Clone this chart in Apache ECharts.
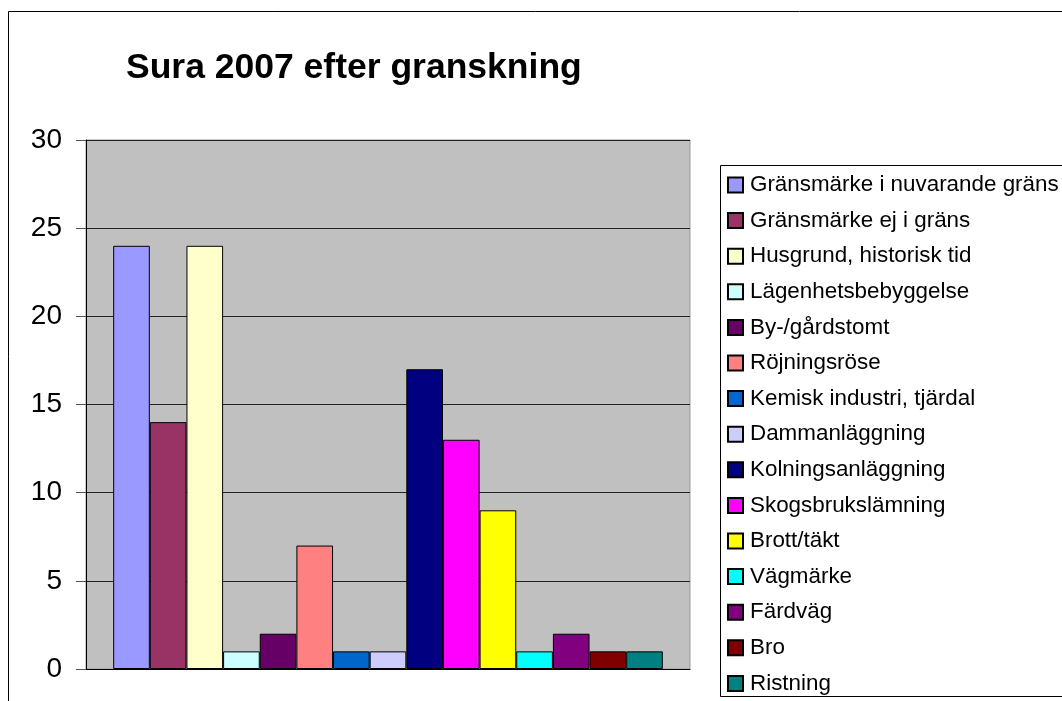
<!DOCTYPE html>
<html>
<head>
<meta charset="utf-8">
<script src="https://cdn.jsdelivr.net/npm/echarts@6/dist/echarts.min.js"></script>
<style>
  html, body { margin: 0; padding: 0; background: #fff; }
  #main { width: 1062px; height: 701px; }
</style>
</head>
<body>
<div id="main"></div>
<script>
var names = ['Gränsmärke i nuvarande gräns', 'Gränsmärke ej i gräns', 'Husgrund, historisk tid',
  'Lägenhetsbebyggelse', 'By-/gårdstomt', 'Röjningsröse', 'Kemisk industri, tjärdal',
  'Dammanläggning', 'Kolningsanläggning', 'Skogsbrukslämning', 'Brott/täkt', 'Vägmärke',
  'Färdväg', 'Bro', 'Ristning']
var values = [24, 14, 24, 1, 2, 7, 1, 1, 17, 13, 9, 1, 2, 1, 1]
var colors = ['#9999FF', '#993366', '#FFFFCC', '#CCFFFF', '#660066', '#FF8080', '#0066CC',
  '#CCCCFF', '#000080', '#FF00FF', '#FFFF00', '#00FFFF', '#800080', '#800000', '#008080']
var yTicks = [0, 5, 10, 15, 20, 25, 30]

var chart = echarts.init(document.getElementById('main'))

var series = []
for (var i = 0; i < names.length; i++) {
  series.push({
    name: names[i],
    type: 'bar',
    data: [values[i]],
    barGap: 0,
    barCategoryGap: '9%',
    itemStyle: { color: colors[i], borderColor: '#000', borderWidth: 1 }
  })
}

chart.setOption({
  animation: false,
  color: colors,
  title: {
    text: 'Sura 2007 efter granskning',
    left: 121,
    top: 45,
    textStyle: { fontFamily: 'Liberation Sans', fontWeight: 'bold', fontSize: 35.5, color: '#000' }
  },
  graphic: [
    { type: 'rect', z: -10, shape: { x: 8.5, y: 11.5, width: 1100, height: 800 },
      style: { fill: '#fff', stroke: '#000', lineWidth: 1 } },
    { type: 'rect', z: -5, shape: { x: 720.5, y: 165.5, width: 400, height: 531 },
      style: { fill: '#fff', stroke: '#000', lineWidth: 1 } }
  ],
  legend: {
    orient: 'vertical',
    left: 722,
    top: 165,
    padding: [9, 5, 5, 5],
    itemWidth: 15,
    itemHeight: 15,
    itemGap: 13.6,
    icon: 'rect',
    data: names,
    textStyle: { fontFamily: 'Liberation Sans', fontSize: 22.4, lineHeight: 22, color: '#000', padding: [0, 0, 0, 2] }
  },
  grid: {
    left: 86, right: 372, top: 140, bottom: 32,
    show: true, backgroundColor: '#C0C0C0', borderColor: '#999', borderWidth: 1
  },
  xAxis: {
    type: 'category',
    data: [''],
    axisLine: { lineStyle: { color: '#000', width: 1 } },
    axisTick: { show: false },
    axisLabel: { show: false }
  },
  yAxis: {
    type: 'value',
    min: yTicks[0],
    max: yTicks[yTicks.length - 1],
    interval: 5,
    axisLine: { show: true, lineStyle: { color: '#000', width: 1 } },
    axisTick: { show: true, length: 10, lineStyle: { color: '#555' } },
    axisLabel: { fontFamily: 'Liberation Sans', fontSize: 28, color: '#000', margin: 24 },
    splitLine: { lineStyle: { color: '#222', width: 1 } }
  },
  series: series
})
</script>
</body>
</html>
